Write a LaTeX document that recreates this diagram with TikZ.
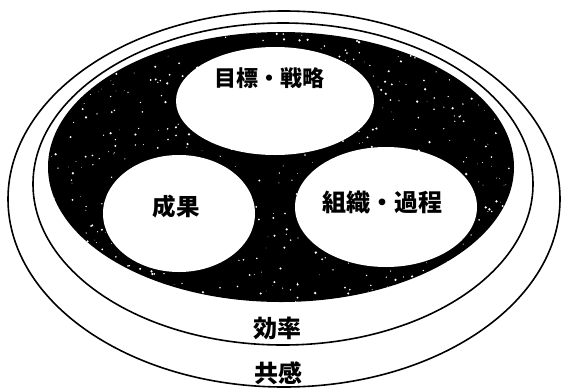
\documentclass[tikz,border=0pt]{standalone}
\usepackage{fontspec}
\newfontfamily\cjk{Noto Sans CJK JP}
\usetikzlibrary{shapes.geometric}
\begin{document}
\begin{tikzpicture}[x=1pt,y=-1pt,
  ring/.style={ellipse, draw=black, line width=1.6pt, inner sep=0pt},
  core/.style={ellipse, fill=black, draw=none, inner sep=0pt},
  blob/.style={ellipse, fill=white, draw=none, inner sep=0pt},
  lbl/.style={font=\cjk\bfseries\fontsize{#1}{#1}\selectfont, inner sep=0pt},
  lbl/.default=23]
\useasboundingbox (0,0) rectangle (562,389);
\node[ring, minimum width=552pt, minimum height=376pt] (outer) at (284,199) {};
\node[ring, minimum width=500pt, minimum height=322pt] (middle) at (283,184) {};
\node[core, minimum width=466pt, minimum height=270pt] (dark) at (281,167) {};
\begin{scope}
  \clip (281,167) ellipse [x radius=233, y radius=135];
  \pgfmathsetseed{42}
  \foreach \i in {1,...,700}{
    \fill[white] ({rnd*466+48},{rnd*270+32}) circle [radius={rnd*1.0+0.3}];
  }
\end{scope}
\node[blob, minimum width=198pt, minimum height=108pt] (goal) at (275,101) {};
\node[blob, minimum width=152pt, minimum height=117pt] (result) at (179,213.5) {};
\node[blob, minimum width=182pt, minimum height=120pt] (org) at (386,207) {};
\node[lbl=22] (tgoal) at (269,78) {目標・戦略};
\node[lbl=23.5] (tresult) at (176,207) {成果};
\node[lbl=24] (torg) at (382,202) {組織・過程};
\node[lbl=24] (teff) at (277,328) {効率};
\node[lbl=24] (temp) at (278,373) {共感};
\end{tikzpicture}
\end{document}
